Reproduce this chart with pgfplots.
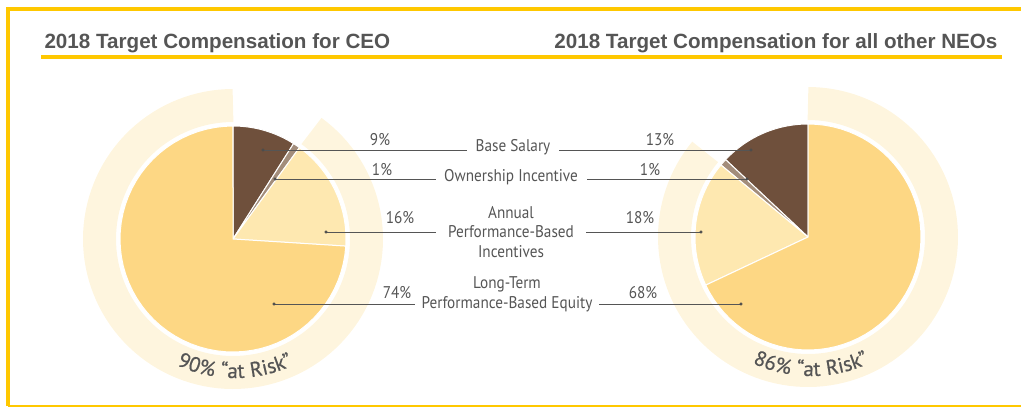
\documentclass[border=0pt]{standalone}
\usepackage{pgfplots}
\pgfplotsset{compat=1.18}
\usepackage{fontspec}
\setmainfont{Liberation Sans}
\newfontfamily\lblfont{PT Sans}[FakeStretch=0.9]
\newfontfamily\curvefam{PT Sans}[LetterSpace=4, FakeBold=0.6]
\usetikzlibrary{decorations.text}

\definecolor{frame}{HTML}{FFC800}
\definecolor{titlegray}{HTML}{555555}
\definecolor{txt}{HTML}{555555}
\definecolor{leader}{HTML}{555555}
\definecolor{base}{HTML}{6F503C}
\definecolor{own}{HTML}{A38D7B}
\definecolor{ann}{HTML}{FEE8B0}
\definecolor{lti}{HTML}{FDD784}
\definecolor{ring}{HTML}{FEF5DE}

% one wedge: centre x, centre y, direction (1 clockwise, -1 anticlockwise), from %, to %, colour
\newcommand{\slice}[6]{%
  \addplot[fill=#6, draw=white, line width=1bp, domain=3.6*#4:3.6*#5, samples=60]
    ({#1+#3*113*sin(x)}, {#2-113*cos(x)}) -- (axis cs:#1,#2) -- cycle;}
% the "at risk" ring, from % to 100 %
\newcommand{\riskring}[4]{%
  \addplot[draw=ring, line width=33bp, domain=3.6*#4:360, samples=120]
    ({#1+#3*133.5*sin(x)}, {#2-133.5*cos(x)});}

\newcommand{\lbl}{\lblfont\fontsize{17}{19.8}\selectfont}
\newcommand{\curvefont}{\curvefam\fontsize{21}{22}\selectfont}

\begin{document}
\begin{tikzpicture}
\begin{axis}[
  width=1021bp, height=407bp, scale only axis,
  xmin=0, xmax=1021, ymin=0, ymax=407, y dir=reverse,
  enlargelimits=false, hide axis, clip=false,
]
% frame and title rules
\addplot[draw=frame, line width=3.4bp] coordinates {(8,406) (8,9) (1021,9)};
\addplot[draw=frame, line width=1.5bp] coordinates {(8,405.8) (1021,405.8)};
\addplot[draw=frame, line width=3.5bp] coordinates {(41,57) (1002,57)};

% CEO: base 9, ownership 1, annual 16, long-term 74 (cumulative 0 9 10 26 100)
\riskring{233}{239}{1}{10}
\slice{233}{239}{1}{0}{9}{base}
\slice{233}{239}{1}{9}{10}{own}
\slice{233}{239}{1}{10}{26}{ann}
\slice{233}{239}{1}{26}{100}{lti}

% other NEOs: base 13, ownership 1, annual 18, long-term 68 (cumulative 0 13 14 32 100)
\riskring{808}{237}{-1}{14}
\slice{808}{237}{-1}{0}{13}{base}
\slice{808}{237}{-1}{13}{14}{own}
\slice{808}{237}{-1}{14}{32}{ann}
\slice{808}{237}{-1}{32}{100}{lti}

% leader lines
\addplot[draw=leader, line width=1bp] coordinates {(263,150) (467,150)};
\addplot[draw=leader, line width=1bp] coordinates {(559,150) (751,150)};
\addplot[draw=leader, line width=1bp] coordinates {(275,179) (436,179)};
\addplot[draw=leader, line width=1bp] coordinates {(587,179) (747,179)};
\addplot[draw=leader, line width=1bp] coordinates {(326,232) (436,232)};
\addplot[draw=leader, line width=1bp] coordinates {(586,232) (701,232)};
\addplot[draw=leader, line width=1bp] coordinates {(274,304) (415,304)};
\addplot[draw=leader, line width=1bp] coordinates {(599,304) (741,304)};
\addplot[only marks, mark=*, mark size=1.3bp, color=black!70] coordinates {
  (263,150) (275,179) (326,232) (274,304)
  (751,150) (747,179) (701,232) (741,304)};

% titles
\node[anchor=base west, text=titlegray, font=\bfseries\fontsize{20.7}{24}\selectfont] at (axis cs:41,48) {2018 Target Compensation for CEO};
\node[anchor=base east, text=titlegray, font=\bfseries\fontsize{20.7}{24}\selectfont] at (axis cs:1001,48) {2018 Target Compensation for all other NEOs};

% category labels
\node[text=txt, font=\lbl] at (axis cs:513,147) {Base Salary};
\node[text=txt, font=\lbl] at (axis cs:511,177) {Ownership Incentive};
\node[text=txt, font=\lbl, align=center] at (axis cs:511,232) {Annual\\Performance-Based\\Incentives};
\node[text=txt, font=\lbl, align=center] at (axis cs:507,294) {Long-Term\\Performance-Based Equity};

% percentages
\node[anchor=base, text=txt, font=\lbl] at (axis cs:380,145) {9\%};
\node[anchor=base, text=txt, font=\lbl] at (axis cs:382,175) {1\%};
\node[anchor=base, text=txt, font=\lbl] at (axis cs:400,223) {16\%};
\node[anchor=base, text=txt, font=\lbl] at (axis cs:397,298) {74\%};
\node[anchor=base, text=txt, font=\lbl] at (axis cs:660,145) {13\%};
\node[anchor=base, text=txt, font=\lbl] at (axis cs:650,175) {1\%};
\node[anchor=base, text=txt, font=\lbl] at (axis cs:640,223) {18\%};
\node[anchor=base, text=txt, font=\lbl] at (axis cs:643,298) {68\%};

\coordinate (cL) at (axis cs:235,239);
\coordinate (cR) at (axis cs:811,237);
\coordinate (BL) at (axis cs:0,407);
\coordinate (TR) at (axis cs:1021,0);
\end{axis}
\path[decorate, decoration={text along path, text align=center,
  text={|\curvefont\color{txt}|90{\%} “at Risk”}}]
  ([shift={(205:139bp)}]cL) arc[start angle=205, end angle=335, radius=139bp];
\path[decorate, decoration={text along path, text align=center,
  text={|\curvefont\color{txt}|86{\%} “at Risk”}}]
  ([shift={(205:139bp)}]cR) arc[start angle=205, end angle=335, radius=139bp];
\pgfresetboundingbox
\path[use as bounding box] (BL) rectangle (TR);
\end{tikzpicture}
\end{document}
